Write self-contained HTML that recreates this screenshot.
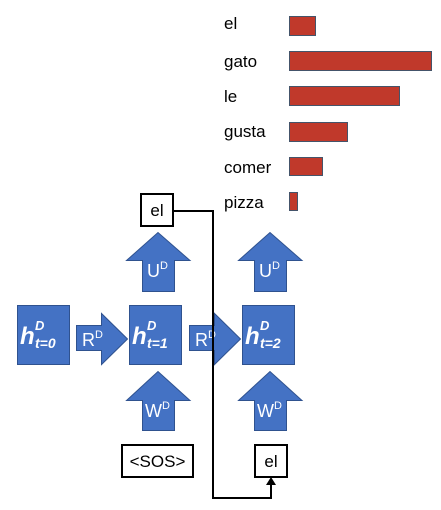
<!DOCTYPE html>
<html><head><meta charset="utf-8"><style>
html,body{margin:0;padding:0;background:#fff;}
svg{display:block;}
text{font-family:"Liberation Sans",sans-serif;}
</style></head><body>
<svg width="441" height="510" viewBox="0 0 441 510" xmlns="http://www.w3.org/2000/svg">
<g fill="#000" font-size="17">
<text x="224" y="29">el</text>
<text x="224" y="67">gato</text>
<text x="224" y="102">le</text>
<text x="224" y="137">gusta</text>
<text x="224" y="173">comer</text>
<text x="224" y="208">pizza</text>
</g>
<g fill="#C0392B" stroke="#44546A" stroke-width="1">
<rect x="289.5" y="16.5" width="26" height="19"/>
<rect x="289.5" y="51.5" width="142" height="19"/>
<rect x="289.5" y="86.5" width="110" height="19"/>
<rect x="289.5" y="122.5" width="58" height="19"/>
<rect x="289.5" y="157.5" width="33" height="18"/>
<rect x="289.5" y="192.5" width="8" height="18"/>
</g>
<g fill="#4472C4" stroke="#2F528F" stroke-width="1">
<rect x="17.5" y="305.5" width="52" height="59"/>
<rect x="129.5" y="305.5" width="52" height="59"/>
<rect x="242.5" y="305.5" width="52" height="59"/>
<polygon points="76.5,325.5 101.5,325.5 101.5,313.5 127.5,339 101.5,364.5 101.5,350.5 76.5,350.5"/>
<polygon points="189.5,325.5 214.5,325.5 214.5,313.5 240.5,339 214.5,364.5 214.5,350.5 189.5,350.5"/>
<polygon points="142.5,291.5 142.5,260.5 126.5,260.5 158,232.5 190,260.5 174.5,260.5 174.5,291.5"/>
<polygon points="254.5,291.5 254.5,260.5 238.5,260.5 270,232.5 302,260.5 286.5,260.5 286.5,291.5"/>
<polygon points="142.5,430.5 142.5,400.5 126.5,400.5 158,371.5 190,400.5 174.5,400.5 174.5,430.5"/>
<polygon points="254.5,430.5 254.5,400.5 238.5,400.5 270,371.5 302,400.5 286.5,400.5 286.5,430.5"/>
</g>
<g fill="#fff" font-size="18">
<text x="82" y="346">R<tspan font-size="11" dy="-8">D</tspan></text>
<text x="195" y="346">R<tspan font-size="11" dy="-8">D</tspan></text>
<text x="147" y="277">U<tspan font-size="11" dy="-8">D</tspan></text>
<text x="259" y="277">U<tspan font-size="11" dy="-8">D</tspan></text>
<text x="145" y="417">W<tspan font-size="11" dy="-8">D</tspan></text>
<text x="257" y="417">W<tspan font-size="11" dy="-8">D</tspan></text>
</g>
<g fill="#fff" font-weight="bold" font-style="italic" font-family="Liberation Serif">
<text x="20" y="344" font-size="24">h</text>
<text x="35" y="330" font-size="13">D</text>
<text x="35" y="348" font-size="14">t=0</text>
<text x="132" y="344" font-size="24">h</text>
<text x="147" y="330" font-size="13">D</text>
<text x="147" y="348" font-size="14">t=1</text>
<text x="245" y="344" font-size="24">h</text>
<text x="260" y="330" font-size="13">D</text>
<text x="260" y="348" font-size="14">t=2</text>
</g>
<g fill="#fff" stroke="#000" stroke-width="2">
<rect x="141" y="194" width="32" height="32"/>
<rect x="122" y="445" width="71" height="32"/>
<rect x="255" y="445" width="32" height="32"/>
</g>
<g fill="#000" font-size="17">
<text x="157" y="216" text-anchor="middle">el</text>
<text x="157.5" y="467" text-anchor="middle">&lt;SOS&gt;</text>
<text x="271" y="467" text-anchor="middle">el</text>
</g>
<polyline points="173,211 213,211 213,498 271,498 271,484" fill="none" stroke="#000" stroke-width="2"/>
<polygon points="266,485 276,485 271,477" fill="#000"/>
</svg>
</body></html>
